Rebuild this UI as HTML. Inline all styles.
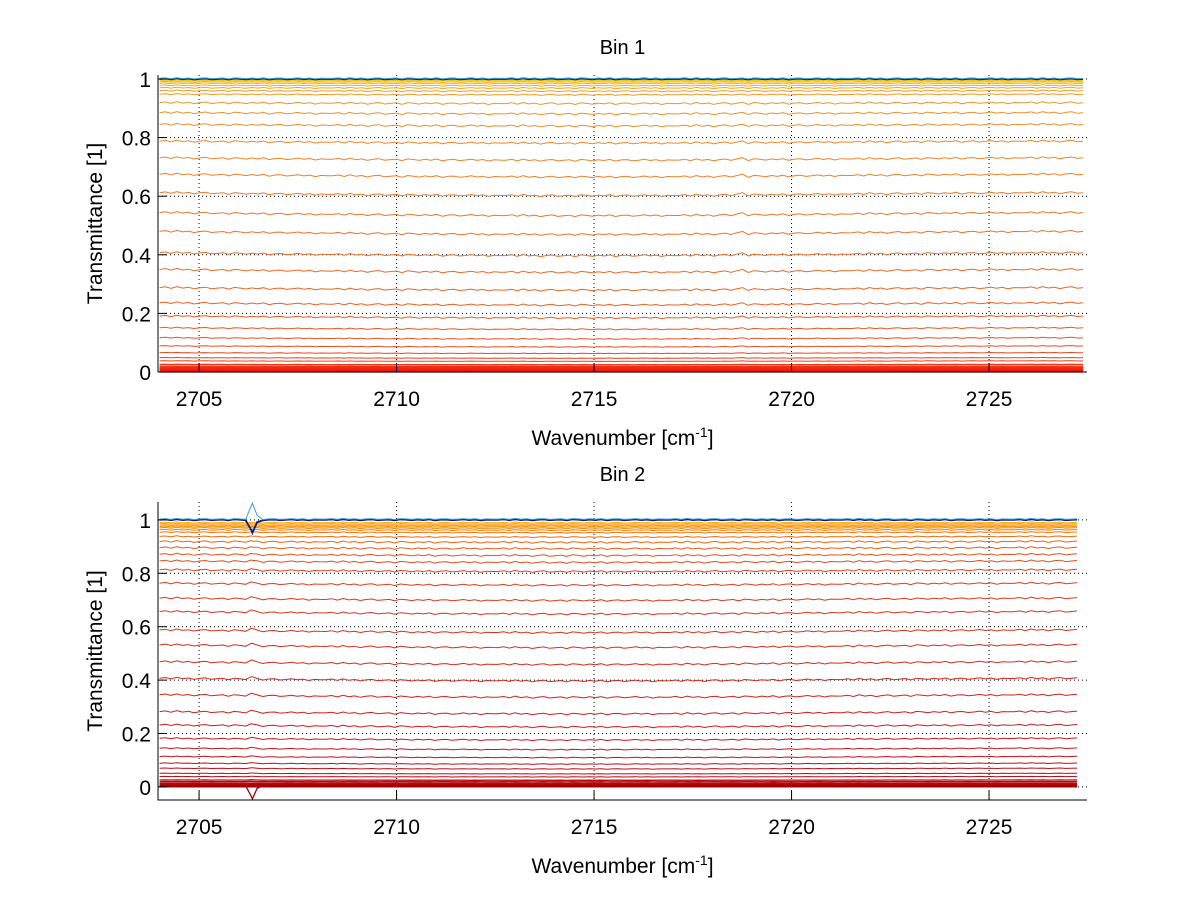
<!DOCTYPE html>
<html><head><meta charset="utf-8"><style>
html,body{margin:0;padding:0;background:#fff;}
svg{display:block;font-family:"Liberation Sans",Arial,sans-serif;}
</style></head><body>
<svg id="fig" width="1200" height="901" viewBox="0 0 1200 901"></svg>
<script>
// ---- data ----
const xStart = 2704.0;
const xEndTop = 2727.38;
const xEndBot = 2727.23;
const xTicks = [2705, 2710, 2715, 2720, 2725];
const yTicks = [0, 0.2, 0.4, 0.6, 0.8, 1];
const yTickLabels = ["0", "0.2", "0.4", "0.6", "0.8", "1"];
// transmittance levels of each spectrum (ascending), bin 1
const levelsBin1 = [0,0.002,0.004,0.006,0.008,0.01,0.013,0.016,0.02,0.026,0.038,0.049,0.066,0.089,0.117,0.151,0.191,0.236,0.288,0.35,0.407,0.48,0.544,0.612,0.675,0.731,0.788,0.845,0.885,0.919,0.948,0.96,0.97,0.978,0.985,0.99,0.994,0.997];
const blueBin1 = [1.0, 1.002];
// bin 2
const levelsBin2 = [0,0.003,0.006,0.008,0.011,0.014,0.02,0.026,0.039,0.051,0.07,0.089,0.114,0.145,0.182,0.232,0.282,0.345,0.407,0.469,0.532,0.588,0.657,0.707,0.763,0.813,0.846,0.871,0.896,0.919,0.938,0.954,0.963,0.97,0.975,0.98,0.985,0.99];
const blueBin2 = [1.0, 1.003];
// relative baseline sag along the spectrum (fraction of level)
const sagKnots = [0, -0.01, -0.018, -0.022, -0.02, -0.012, -0.004, 0];
// small wiggle pattern (absolute)
const wiggle = [0,0.003,-0.002,0.004,-0.001,0.002,-0.003,0.001,0.003,-0.002,0,0.002,-0.003,0.003,0.001,-0.002,0.002,-0.001,0.003,-0.003,0.001,0.002,-0.002,0,0.003,-0.001,0.002,-0.003,0.001,0];
// absorption features [wavenumber, relative height]
const featureBin1 = [2718.7, 0.012];
const featureBin2 = [2706.35, 0.01];
const spikeBin2 = [2706.35, 0.06];

const NS = "http://www.w3.org/2000/svg";
const svg = document.getElementById("fig");
function mk(tag, attrs, parent){const e=document.createElementNS(NS,tag);for(const k in attrs)e.setAttribute(k,attrs[k]);(parent||svg).appendChild(e);return e;}

function lerpColor(stops, t){
  t=Math.max(0,Math.min(1,t));
  for(let i=0;i<stops.length-1;i++){
    const a=stops[i],b=stops[i+1];
    if(t<=b[0]){const f=(t-a[0])/(b[0]-a[0]||1);
      return `rgb(${Math.round(a[1]+(b[1]-a[1])*f)},${Math.round(a[2]+(b[2]-a[2])*f)},${Math.round(a[3]+(b[3]-a[3])*f)})`;}
  }
  const l=stops[stops.length-1];return `rgb(${l[1]},${l[2]},${l[3]})`;
}
const cmap1=[[0,255,0,0],[0.3,232,70,30],[0.6,235,120,40],[0.85,240,160,40],[1,250,200,0]];
const cmap2=[[0,165,0,0],[0.35,200,20,30],[0.65,220,60,30],[0.85,245,120,10],[1,255,170,0]];

function drawPanel(cfg){
  const g=mk("g",{});
  
  
  const sx=v=>cfg.L+(v-cfg.xmin)/(cfg.xmax-cfg.xmin)*(cfg.R-cfg.L);
  const sy=v=>cfg.B-(v-cfg.ymin)/(cfg.ymax-cfg.ymin)*(cfg.B-cfg.T);
  xTicks.forEach(t=>{const l=mk("line",{x1:sx(t),x2:sx(t),y1:cfg.T,y2:cfg.B,stroke:"#000","stroke-width":1,"stroke-dasharray":"1,3"},g);
    });
  yTicks.forEach(t=>{const l=mk("line",{x1:cfg.L,x2:cfg.R,y1:sy(t),y2:sy(t),stroke:"#000","stroke-width":1,"stroke-dasharray":"1,3"},g);
    });
  const N=160;
  function series(level,color,width,extra){
    let xs=[];
    for(let i=0;i<=N;i++) xs.push(cfg.xmin0+(cfg.xend-cfg.xmin0)*i/N);
    if(cfg.spike){xs.push(cfg.spike[0]);xs.sort((a,b)=>a-b);}
    let pts=[];
    xs.forEach((x,i)=>{
      const f=(x-cfg.xmin0)/(cfg.xend-cfg.xmin0);
      const kp=f*(sagKnots.length-1),k0=Math.min(Math.floor(kp),sagKnots.length-1),k1=Math.min(k0+1,sagKnots.length-1);
      const sag=sagKnots[k0]+(sagKnots[k1]-sagKnots[k0])*(kp-k0);
      const w=wiggle[i%wiggle.length]*Math.min(1,level*4)*(level>0.93?0.6:1);
      let v=level+sag*level*(1-level)*2+w;
      if(level<0.005) v=level;
      const fd=Math.abs(x-cfg.feature[0]);
      if(fd<0.12) v+=cfg.feature[1]*level*(1-level)*4*(1-fd/0.12);
      if(extra) v+=extra(x);
      pts.push(sx(x).toFixed(1)+","+sy(v).toFixed(1));
    });
    const p=mk("polyline",{points:pts.join(" "),fill:"none",stroke:color,"stroke-width":width},g);
    
    
  }
  cfg.levels.forEach((lv,i)=>series(lv,lerpColor(cfg.cmap,i/(cfg.levels.length-1)),lv<0.03?1.3:1));
  cfg.blue.forEach((lv,i)=>series(lv,i===0?"#00208a":"#3aa0d8",i===0?1.8:1,cfg.spike?(x=>{const d=Math.abs(x-cfg.spike[0]);return d<0.15?(i===0?-0.8:1)*cfg.spike[1]*(1-d/0.15):0;}):null));
  if(cfg.spike){
    series(0.005,"#a00000",1.3,x=>{const d=Math.abs(x-cfg.spike[0]);return d<0.15?-0.05*(1-d/0.15):0;});
  }
  const ax=mk("line",{x1:cfg.L,x2:cfg.L,y1:cfg.T,y2:cfg.B+0.5,stroke:"#000","stroke-width":1},g);
  
  const bx=mk("line",{x1:cfg.L,x2:cfg.R,y1:cfg.B,y2:cfg.B,stroke:"#000","stroke-width":1},g);
  
  xTicks.forEach(t=>{mk("line",{x1:sx(t),x2:sx(t),y1:cfg.B,y2:cfg.B-9,stroke:"#000"},g);
    const tx=mk("text",{x:sx(t),y:cfg.B+34,"text-anchor":"middle","font-size":21},g);tx.textContent=t;
    });
  yTicks.forEach((t,i)=>{mk("line",{x1:cfg.L,x2:cfg.L+9,y1:sy(t),y2:sy(t),stroke:"#000"},g);
    const tx=mk("text",{x:cfg.L-7,y:sy(t)+8,"text-anchor":"end","font-size":21},g);tx.textContent=yTickLabels[i];
    });
  const ti=mk("text",{x:(cfg.L+cfg.R)/2,y:cfg.T-21,"text-anchor":"middle","font-size":20},g);ti.textContent=cfg.title;
  
  const yl=mk("text",{x:0,y:0,"text-anchor":"middle","font-size":21,transform:`translate(102,${(cfg.T+cfg.B)/2}) rotate(-90)`},g);yl.textContent="Transmittance [1]";
  
  const xl=mk("text",{x:(cfg.L+cfg.R)/2,y:cfg.B+73,"text-anchor":"middle","font-size":21},g);
  xl.innerHTML='Wavenumber [cm<tspan dy="-8" font-size="14">-1</tspan><tspan dy="8">]</tspan>';
  
}
drawPanel({name:"bin-1-panel",title:"Bin 1",L:158,R:1087,T:75,B:372,xmin:2703.96,xmax:2727.48,ymin:0,ymax:1.0136,
  xmin0:xStart,xend:xEndTop,levels:levelsBin1,blue:blueBin1,cmap:cmap1,feature:featureBin1,spike:null});
drawPanel({name:"bin-2-panel",title:"Bin 2",L:158,R:1087,T:502,B:800,xmin:2703.96,xmax:2727.48,ymin:-0.049,ymax:1.067,
  xmin0:xStart,xend:xEndBot,levels:levelsBin2,blue:blueBin2,cmap:cmap2,feature:featureBin2,spike:spikeBin2});
</script>
</body></html>
